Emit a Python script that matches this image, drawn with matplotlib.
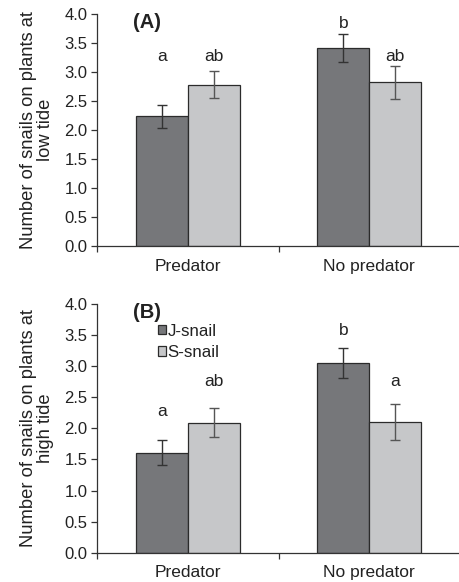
import matplotlib.pyplot as plt
import numpy as np

plt.rcParams['font.family'] = ['Liberation Sans', 'DejaVu Sans']

# Mean snails on plants, by predator treatment
treatments = ['Predator', 'No predator']
snail_types = ['J-snail', 'S-snail']

low_j = [2.24, 3.42]
low_j_err = [0.20, 0.24]
low_s = [2.78, 2.82]
low_s_err = [0.23, 0.29]
low_letters_j = ['a', 'b']
low_letters_s = ['ab', 'ab']

high_j = [1.61, 3.05]
high_j_err = [0.20, 0.24]
high_s = [2.09, 2.10]
high_s_err = [0.23, 0.29]
high_letters_j = ['a', 'b']
high_letters_s = ['ab', 'a']

# heights (data units) where the letters sit
low_letter_y_j = [3.26, 3.84]
low_letter_y_s = [3.26, 3.26]
high_letter_y_j = [2.27, 3.57]
high_letter_y_s = [2.75, 2.75]

dark = '#76777a'
light = '#c6c7c9'
edge = '#2b2b2b'
width = 0.286
txt = '#222222'

fig = plt.figure(figsize=(4.6, 5.82), dpi=100)
ax_a = fig.add_axes([0.211, 0.577, 0.789, 0.399])
ax_b = fig.add_axes([0.211, 0.050, 0.789, 0.428])


def draw_panel(ax, j, j_err, s, s_err, letters_j, letters_s, ly_j, ly_s,
               tag, ylabel):
    x = np.arange(len(treatments))
    ax.bar(x - width / 2, j, width, color=dark, edgecolor=edge, linewidth=0.9,
           label=snail_types[0], zorder=2)
    ax.bar(x + width / 2, s, width, color=light, edgecolor=edge, linewidth=0.9,
           label=snail_types[1], zorder=2)
    ax.errorbar(x - width / 2, j, yerr=j_err, fmt='none', ecolor='#333333',
                elinewidth=1.0, capsize=3.5, capthick=1.0, zorder=3)
    ax.errorbar(x + width / 2, s, yerr=s_err, fmt='none', ecolor='#555555',
                elinewidth=1.0, capsize=3.5, capthick=1.0, zorder=3)

    # significance letters above each bar
    for i in range(len(x)):
        ax.text(x[i] - width / 2, ly_j[i], letters_j[i], ha='center',
                va='center', fontsize=12.5, color=txt)
        ax.text(x[i] + width / 2, ly_s[i], letters_s[i], ha='center',
                va='center', fontsize=12.5, color=txt)

    ax.set_xlim(-0.5, 1.5)
    ax.set_ylim(0, 4.0)
    ax.set_yticks(np.arange(0, 4.01, 0.5))
    ax.set_yticklabels([f'{v:.1f}' for v in np.arange(0, 4.01, 0.5)])
    ax.set_xticks(x)
    ax.set_xticklabels(treatments)
    ax.set_xticks([-0.5, 0.5, 1.5], minor=True)
    ax.tick_params(axis='x', which='major', length=0, pad=9, labelsize=12.5,
                   colors=txt)
    ax.tick_params(axis='x', which='minor', length=4, width=0.9, color='#333333')
    ax.tick_params(axis='y', length=4, width=0.9, labelsize=12,
                   colors='#333333', labelcolor=txt, pad=3)
    for side in ['top', 'right']:
        ax.spines[side].set_visible(False)
    for side in ['left', 'bottom']:
        ax.spines[side].set_linewidth(0.9)
        ax.spines[side].set_color('#333333')

    ax.set_ylabel(ylabel, fontsize=13.2, color=txt, labelpad=7,
                  linespacing=1.05)
    ax.text(0.1, 0.965, tag, transform=ax.transAxes, fontsize=14.5,
            fontweight='bold', va='center', ha='left', color=txt)


draw_panel(ax_a, low_j, low_j_err, low_s, low_s_err, low_letters_j,
           low_letters_s, low_letter_y_j, low_letter_y_s, '(A)',
           'Number of snails on plants at\nlow tide')
draw_panel(ax_b, high_j, high_j_err, high_s, high_s_err, high_letters_j,
           high_letters_s, high_letter_y_j, high_letter_y_s, '(B)',
           'Number of snails on plants at\nhigh tide')

ax_b.legend(loc='upper left', bbox_to_anchor=(0.148, 0.948), frameon=False,
            fontsize=12.2, handlelength=0.5, handleheight=0.5,
            handletextpad=0.08, labelspacing=0.4, borderaxespad=0,
            labelcolor=txt)

fig.savefig('out.png', dpi=100)
